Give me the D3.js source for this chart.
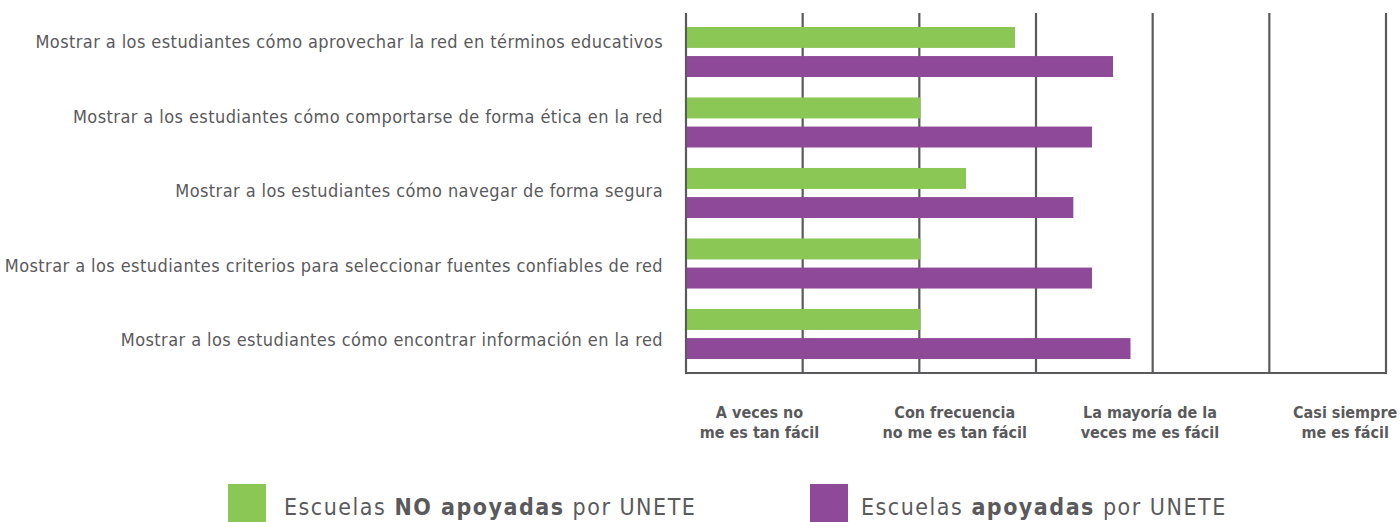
<!DOCTYPE html>
<html><head><meta charset="utf-8">
<script src="https://cdn.jsdelivr.net/npm/d3@7"></script>
<style>html,body{margin:0;padding:0;background:#fff;}svg{display:block;}</style>
</head><body>
<svg id="chart" width="1400" height="522"></svg>
<script>
const categories = [
  "Mostrar a los estudiantes cómo aprovechar la red en términos educativos",
  "Mostrar a los estudiantes cómo comportarse de forma ética en la red",
  "Mostrar a los estudiantes cómo navegar de forma segura",
  "Mostrar a los estudiantes criterios para seleccionar fuentes confiables de red",
  "Mostrar a los estudiantes cómo encontrar información en la red"
];
const seriesNames = ["Escuelas NO apoyadas por UNETE", "Escuelas apoyadas por UNETE"];
const noApoyadas = [2.82, 2.01, 2.40, 2.01, 2.01];
const apoyadas = [3.66, 3.48, 3.32, 3.48, 3.81];
const gridValues = [0, 1, 2, 3, 4, 5, 6];
const tickLabels = [
  ["A veces no", "me es tan fácil"],
  ["Con frecuencia", "no me es tan fácil"],
  ["La mayoría de la", "veces me es  fácil"],
  ["Casi siempre", "me es fácil"]
];
const tickPositions = [0.63, 5.65];

const colors = ["#8BC755", "#8E4A98"];
const gray = "#5a5a5c";
const font = "'DejaVu Sans Condensed', 'DejaVu Sans', sans-serif";

const svg = d3.select("#chart");
const x = d3.scaleLinear().domain([0, 6]).range([686, 1386]);
const y0 = d3.scaleBand().domain(d3.range(categories.length)).range([13, 373]).paddingInner(0.29).paddingOuter(0.198);
const y1 = d3.scaleBand().domain([0, 1]).range([0, y0.bandwidth()]).paddingInner(0.28);
const yLabel = d3.scalePoint().domain(d3.range(categories.length)).range([42, 340]);

// grid lines
svg.append("g").selectAll("line").data(gridValues).join("line")
  .attr("x1", d => x(d)).attr("x2", d => x(d))
  .attr("y1", 13).attr("y2", 373)
  .attr("stroke", gray).attr("stroke-width", 2.2);
// bottom axis line
svg.append("line").attr("x1", x(0) - 1).attr("x2", x(6) + 1).attr("y1", 373).attr("y2", 373)
  .attr("stroke", gray).attr("stroke-width", 2.2);

// bars
const rows = categories.map((c, i) => ({i, vals: [noApoyadas[i], apoyadas[i]]}));
const g = svg.append("g").selectAll("g").data(rows).join("g")
  .attr("transform", d => `translate(0,${y0(d.i)})`);
g.selectAll("rect").data(d => d.vals.map((v, k) => ({v, k}))).join("rect")
  .attr("x", x(0) + 1)
  .attr("y", d => y1(d.k))
  .attr("width", d => x(d.v) - x(0) - 1)
  .attr("height", y1.bandwidth())
  .attr("fill", d => colors[d.k]);

// category labels
svg.append("g").selectAll("text").data(categories).join("text")
  .attr("x", 663)
  .attr("y", (d, i) => yLabel(i))
  .attr("dy", "0.35em")
  .attr("text-anchor", "end")
  .attr("font-family", font).attr("font-size", 18)
  .attr("letter-spacing", 0.42)
  .attr("fill", gray)
  .text(d => d);

// tick labels
const xt = d3.scalePoint().domain(d3.range(tickLabels.length)).range(tickPositions);
const tl = svg.append("g").selectAll("text").data(tickLabels).join("text")
  .attr("text-anchor", "middle")
  .attr("font-family", font).attr("font-size", 16).attr("font-weight", "bold")
  .attr("fill", gray);
tl.selectAll("tspan").data(d => d).join("tspan")
  .attr("x", function() { const i = tickLabels.indexOf(d3.select(this.parentNode).datum()); return x(xt(i)); })
  .attr("y", (d, j) => 418 + j * 20)
  .text(d => d);

// legend
const legendX = [228, 810];
const leg = svg.append("g").selectAll("g").data(seriesNames).join("g")
  .attr("transform", (d, i) => `translate(${legendX[i]},484)`);
leg.append("rect").attr("width", 38).attr("height", 38).attr("fill", (d, i) => colors[i]);
const lt = leg.append("text").attr("x", (d, i) => i === 0 ? 56 : 51).attr("y", 31)
  .attr("font-family", font).attr("font-size", 23).attr("letter-spacing", 1.5).attr("fill", gray);
lt.each(function(d) {
  const t = d3.select(this);
  const parts = d.split(/(NO apoyadas|apoyadas)/);
  parts.forEach(p => {
    if (!p) return;
    const bold = p === "NO apoyadas" || p === "apoyadas";
    t.append("tspan").attr("font-weight", bold ? "bold" : "normal").text(p);
  });
});
</script>
</body></html>
